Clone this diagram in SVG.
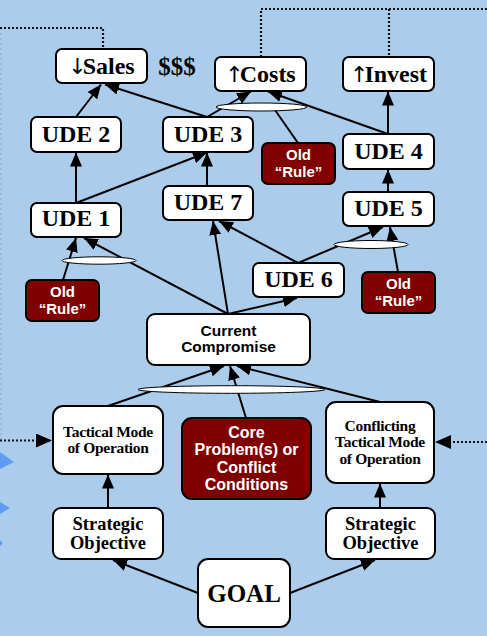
<svg xmlns="http://www.w3.org/2000/svg" width="487" height="636" viewBox="0 0 487 636">
<defs>
<marker id="ah" markerUnits="userSpaceOnUse" markerWidth="15" markerHeight="12" refX="14" refY="6" orient="auto"><path d="M0,0 L14,6 L0,12 z" fill="#000"/></marker>
<marker id="ahd" markerUnits="userSpaceOnUse" markerWidth="17" markerHeight="14" refX="16" refY="7" orient="auto"><path d="M0,0 L16,7 L0,14 z" fill="#000"/></marker>
</defs>
<style>
.bx{fill:#fff;stroke:#000;stroke-width:2}
.rr{fill:#800000;stroke:#000;stroke-width:2}
.ln{stroke:#000;stroke-width:2;fill:none}
.dt{stroke:#111;stroke-width:2.2;fill:none;stroke-dasharray:2 2}
.el{fill:#fff;stroke:#000;stroke-width:1}
.ser{font-family:"Liberation Serif","Times New Roman",serif;font-weight:bold;fill:#000;text-anchor:middle}
.big{font-size:24px}
.med{font-size:18.5px}
.sm{font-size:15.5px;letter-spacing:-0.3px}
.san{font-family:"Liberation Sans",Arial,sans-serif;font-weight:bold;text-anchor:middle}
.cc{font-size:15.5px;fill:#000}
.wr{font-size:15px;fill:#fff}
.wc{font-size:16px;fill:#fff}
.arr{font-family:"DejaVu Sans",sans-serif;font-weight:normal;font-size:22px;fill:#000;letter-spacing:-4px}
</style>
<rect x="0" y="0" width="487" height="636" fill="#abcdeb"/>
<line x1="1" y1="28" x2="1" y2="440" stroke="#8fa9c4" stroke-width="1" stroke-dasharray="2 3"/>
<polygon points="0,452 14,462 0,469" fill="#5f9df5"/>
<polygon points="0,502 10,508 0,514" fill="#5f9df5"/>
<polygon points="0,540 3,543 0,546" fill="#5f9df5"/>

<g id="connectors">
<polyline class="dt" points="0,28 103,28 103,49"/>
<polyline class="dt" points="261,57 261,9 487,9"/>
<line class="dt" x1="389" y1="9" x2="389" y2="57"/>
<line class="dt" x1="0" y1="440.5" x2="52" y2="440.5" marker-end="url(#ahd)"/>
<line class="dt" x1="487" y1="442" x2="435" y2="442" marker-end="url(#ahd)"/>
<line class="ln" x1="76" y1="117" x2="101" y2="84.5" marker-end="url(#ah)"/>
<line class="ln" x1="207" y1="117" x2="105" y2="84.5" marker-end="url(#ah)"/>
<line class="ln" x1="207" y1="117" x2="251" y2="91.5" marker-end="url(#ah)"/>
<line class="ln" x1="388" y1="134" x2="268" y2="91.5" marker-end="url(#ah)"/>
<line class="ln" x1="298" y1="143" x2="275" y2="110"/>
<line class="ln" x1="388" y1="134" x2="388" y2="91.5" marker-end="url(#ah)"/>
<line class="ln" x1="388" y1="192" x2="388" y2="169.5" marker-end="url(#ah)"/>
<line class="ln" x1="76" y1="203" x2="76" y2="152.5" marker-end="url(#ah)"/>
<line class="ln" x1="76" y1="203" x2="207" y2="152.5" marker-end="url(#ah)"/>
<line class="ln" x1="207" y1="186" x2="207" y2="152.5" marker-end="url(#ah)"/>
<line class="ln" x1="63" y1="280" x2="76" y2="238" marker-end="url(#ah)"/>
<line class="ln" x1="228" y1="314" x2="84" y2="238" marker-end="url(#ah)"/>
<line class="ln" x1="228" y1="314" x2="213" y2="221" marker-end="url(#ah)"/>
<line class="ln" x1="298" y1="263" x2="219" y2="221" marker-end="url(#ah)"/>
<line class="ln" x1="298" y1="263" x2="383" y2="227" marker-end="url(#ah)"/>
<line class="ln" x1="398" y1="272" x2="390" y2="227" marker-end="url(#ah)"/>
<line class="ln" x1="228" y1="314" x2="297" y2="298" marker-end="url(#ah)"/>
<line class="ln" x1="108" y1="406" x2="224" y2="366" marker-end="url(#ah)"/>
<line class="ln" x1="246" y1="418" x2="230" y2="366" marker-end="url(#ah)"/>
<line class="ln" x1="380" y1="402" x2="237" y2="366" marker-end="url(#ah)"/>
<line class="ln" x1="108" y1="508" x2="108" y2="474.5" marker-end="url(#ah)"/>
<line class="ln" x1="380" y1="508" x2="380" y2="483.5" marker-end="url(#ah)"/>
<line class="ln" x1="198" y1="593" x2="113" y2="560" marker-end="url(#ah)"/>
<line class="ln" x1="290" y1="593" x2="375" y2="560" marker-end="url(#ah)"/>
<ellipse class="el" cx="261.5" cy="107" rx="45.5" ry="4"/>
<ellipse class="el" cx="99" cy="260.5" rx="37" ry="3.7"/>
<ellipse class="el" cx="371" cy="244.5" rx="37" ry="4"/>
<ellipse class="el" cx="231.5" cy="389.5" rx="93.5" ry="3.8"/>
</g>

<g id="sales"><rect class="bx" x="56" y="49" width="91" height="34" rx="6"/><text class="ser big" x="101.5" y="74"><tspan class="arr">↓</tspan>Sales</text></g>
<g id="money"><text class="ser" x="177" y="75" style="font-size:25px">$$$</text></g>
<g id="costs"><rect class="bx" x="215" y="57" width="91" height="34" rx="6"/><text class="ser big" x="260.5" y="82"><tspan class="arr">↑</tspan>Costs</text></g>
<g id="invest"><rect class="bx" x="343" y="57" width="91" height="34" rx="6"/><text class="ser big" x="388.5" y="82"><tspan class="arr">↑</tspan>Invest</text></g>
<g id="ude2"><rect class="bx" x="31" y="117" width="90" height="35" rx="6"/><text class="ser big" x="76" y="142">UDE 2</text></g>
<g id="ude3"><rect class="bx" x="163" y="117" width="90" height="35" rx="6"/><text class="ser big" x="208" y="142">UDE 3</text></g>
<g id="ude4"><rect class="bx" x="343" y="134" width="91" height="35" rx="6"/><text class="ser big" x="388.5" y="159">UDE 4</text></g>
<g id="oldrule1"><rect class="rr" x="262" y="143" width="73" height="41" rx="6"/><text class="san wr" x="298.5" y="160">Old</text><text class="san wr" x="298.5" y="177">“Rule”</text></g>
<g id="ude7"><rect class="bx" x="163" y="186" width="90" height="34" rx="6"/><text class="ser big" x="208" y="210">UDE 7</text></g>
<g id="ude1"><rect class="bx" x="31" y="203" width="90" height="34" rx="6"/><text class="ser big" x="76" y="226">UDE 1</text></g>
<g id="ude5"><rect class="bx" x="343" y="192" width="91" height="34" rx="6"/><text class="ser big" x="388.5" y="216">UDE 5</text></g>
<g id="ude6"><rect class="bx" x="253" y="263" width="91" height="34" rx="6"/><text class="ser big" x="298.5" y="287">UDE 6</text></g>
<g id="oldrule2"><rect class="rr" x="26" y="280" width="73" height="41" rx="6"/><text class="san wr" x="62.5" y="297">Old</text><text class="san wr" x="62.5" y="314">“Rule”</text></g>
<g id="oldrule3"><rect class="rr" x="362" y="272" width="73" height="41" rx="6"/><text class="san wr" x="398.5" y="289">Old</text><text class="san wr" x="398.5" y="306">“Rule”</text></g>
<g id="compromise"><rect class="bx" x="147" y="314" width="163" height="51" rx="8"/><text class="san cc" x="228.5" y="336">Current</text><text class="san cc" x="228.5" y="352">Compromise</text></g>
<g id="tactical"><rect class="bx" x="53" y="406" width="110" height="68" rx="10"/><text class="ser sm" x="108" y="437">Tactical Mode</text><text class="ser sm" x="108" y="453">of Operation</text></g>
<g id="core"><rect class="rr" x="182" y="418" width="129" height="81" rx="10"/><text class="san wc" x="246.5" y="438">Core</text><text class="san wc" x="246.5" y="455">Problem(s) or</text><text class="san wc" x="246.5" y="473">Conflict</text><text class="san wc" x="246.5" y="490">Conditions</text></g>
<g id="conflicting"><rect class="bx" x="326" y="402" width="108" height="81" rx="10"/><text class="ser sm" x="380" y="431">Conflicting</text><text class="ser sm" x="380" y="447">Tactical Mode</text><text class="ser sm" x="380" y="464">of Operation</text></g>
<g id="strategic1"><rect class="bx" x="53" y="508" width="110" height="51" rx="8"/><text class="ser med" x="108" y="530">Strategic</text><text class="ser med" x="108" y="549">Objective</text></g>
<g id="strategic2"><rect class="bx" x="326" y="508" width="109" height="51" rx="8"/><text class="ser med" x="380.5" y="530">Strategic</text><text class="ser med" x="380.5" y="549">Objective</text></g>
<g id="goal"><rect class="bx" x="198" y="559" width="92" height="68" rx="10"/><text class="ser" x="244" y="602" style="font-size:25px">GOAL</text></g>
</svg>
